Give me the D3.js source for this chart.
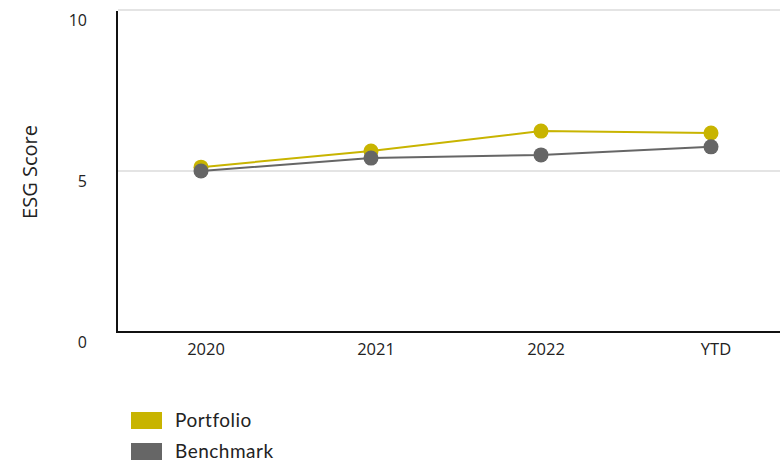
<!DOCTYPE html>
<html>
<head>
<meta charset="UTF-8">
<title>ESG Score</title>
<style>
  body { margin: 0; background: #fff; }
  svg text { font-family: "Open Sans", "Noto Sans", sans-serif; fill: #222; }
  .legend text { font-family: "Lato", "Noto Sans", sans-serif; }
</style>
</head>
<body>
<script src="https://cdn.jsdelivr.net/npm/d3@7"></script>
<script>
var categories = ["2020", "2021", "2022", "YTD"];
var portfolio = [5.12, 5.62, 6.24, 6.18];
var benchmark = [5.0, 5.4, 5.5, 5.75];
var yTicks = [0, 5, 10];
var seriesNames = ["Portfolio", "Benchmark"];
var colors = ["#c8b400", "#666666"];

var svg = d3.select("body").append("svg").attr("width", 780).attr("height", 461);

var x = d3.scaleBand().domain(categories).range([116, 796]);
var y = d3.scaleLinear().domain([0, 10]).range([332, 10]);

// gridlines
svg.append("g").selectAll("line").data(yTicks.filter(function(d){ return d > 0; })).enter()
  .append("line")
  .attr("x1", 118).attr("x2", 780)
  .attr("y1", function(d){ return y(d); })
  .attr("y2", function(d){ return y(d); })
  .attr("stroke", "#e4e4e4").attr("stroke-width", 2);

// y tick labels (sit a little below their gridline)
svg.append("g").selectAll("text").data(yTicks).enter()
  .append("text")
  .attr("x", 87)
  .attr("y", function(d){ return y(d) + 12; })
  .attr("text-anchor", "end")
  .attr("dominant-baseline", "middle")
  .style("font-size", "16px")
  .text(function(d){ return d; });

// x tick labels
svg.append("g").selectAll("text").data(categories).enter()
  .append("text")
  .attr("x", function(d){ return x(d) + x.bandwidth() / 2 + 5; })
  .attr("y", 351)
  .attr("text-anchor", "middle")
  .attr("dominant-baseline", "middle")
  .style("font-size", "16.5px")
  .text(function(d){ return d; });

// axes lines
svg.append("line").attr("x1", 117).attr("x2", 117).attr("y1", 11).attr("y2", 333)
  .attr("stroke", "#111").attr("stroke-width", 2);
svg.append("line").attr("x1", 116).attr("x2", 780).attr("y1", 332).attr("y2", 332)
  .attr("stroke", "#111").attr("stroke-width", 2);

// y axis title
svg.append("text")
  .attr("transform", "translate(32,172) rotate(-90)")
  .attr("text-anchor", "middle")
  .attr("dominant-baseline", "middle")
  .style("font-size", "20px")
  .text("ESG Score");

// series
var series = [portfolio, benchmark];
var line = d3.line()
  .x(function(d, i){ return x(categories[i]) + x.bandwidth() / 2; })
  .y(function(d){ return y(d); });

series.forEach(function(vals, s){
  var g = svg.append("g");
  g.append("path").datum(vals)
    .attr("d", line)
    .attr("fill", "none")
    .attr("stroke", colors[s])
    .attr("stroke-width", 2);
  g.selectAll("circle").data(vals).enter()
    .append("circle")
    .attr("cx", function(d, i){ return x(categories[i]) + x.bandwidth() / 2; })
    .attr("cy", function(d){ return y(d); })
    .attr("r", 7.5)
    .attr("fill", colors[s]);
});

// legend
var legend = svg.append("g").attr("class", "legend");
var items = legend.selectAll("g").data(seriesNames).enter()
  .append("g")
  .attr("transform", function(d, i){ return "translate(131," + (412 + i * 31) + ")"; });
items.append("rect").attr("width", 31).attr("height", 17)
  .attr("fill", function(d, i){ return colors[i]; });
items.append("text").attr("x", 44).attr("y", 10)
  .attr("dominant-baseline", "middle")
  .style("font-size", "19px")
  .style("letter-spacing", "0.5px")
  .text(function(d){ return d; });
</script>
</body>
</html>
